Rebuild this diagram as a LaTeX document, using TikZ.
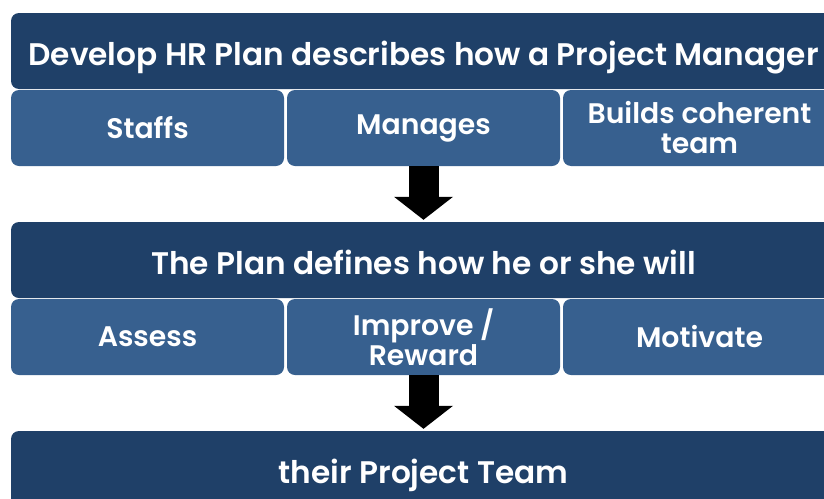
\documentclass[tikz,border=0pt]{standalone}
\usepackage{fontspec}
\setmainfont{Poppins}[BoldFont={Poppins SemiBold}]
\usepackage{xcolor}
\usepackage{tikz}
\usetikzlibrary{arrows.meta,positioning}

\definecolor{bardark}{HTML}{1F4068}
\definecolor{itemblue}{HTML}{37608F}

\tikzset{
  bar/.style={fill=bardark, rounded corners=8pt, minimum width=825pt, minimum height=76pt,
    inner sep=0pt, text height=28pt, text depth=0pt, text=white,
    font=\fontsize{31.2}{32}\selectfont\bfseries},
  item/.style={fill=itemblue, rounded corners=8pt, minimum width=273pt, minimum height=76pt,
    inner sep=0pt, text=white, align=center, font=\fontsize{28.3}{30}\selectfont\bfseries},
  blockarrow/.style={line width=30pt, shorten >=2pt,
    -{Triangle[width=59pt, length=23pt, line width=0pt]}}
}

\begin{document}
\begin{tikzpicture}[x=1pt, y=-1pt]
        \useasboundingbox (0,0) rectangle (824,498);
        \clip (0,0) rectangle (824,498);

        % First level
        \node[bar] (hr) at (423.5,51) {Develop HR Plan describes how a Project Manager};
        \node[item] (staffs) at (147.5,128) {Staffs};
        \node[item] (manages) at (423.5,128) {Manages};
        \node[item] (builds) at (699.5,128) {Builds coherent\\team};

        % Second level
        \node[bar] (plan) at (423.5,260) {The Plan defines how he or she will};
        \node[item] (assess) at (147.5,337) {Assess};
        \node[item] (improve) at (423.5,337) {Improve /\\Reward};
        \node[item] (motivate) at (699.5,337) {Motivate};

        % Last level
        \node[bar] (team) at (423.5,469) {their Project Team};

        % Arrows
        \draw[blockarrow] (manages.south) -- (plan.north);
        \draw[blockarrow] (improve.south) -- (team.north);
      \end{tikzpicture}
\end{document}
